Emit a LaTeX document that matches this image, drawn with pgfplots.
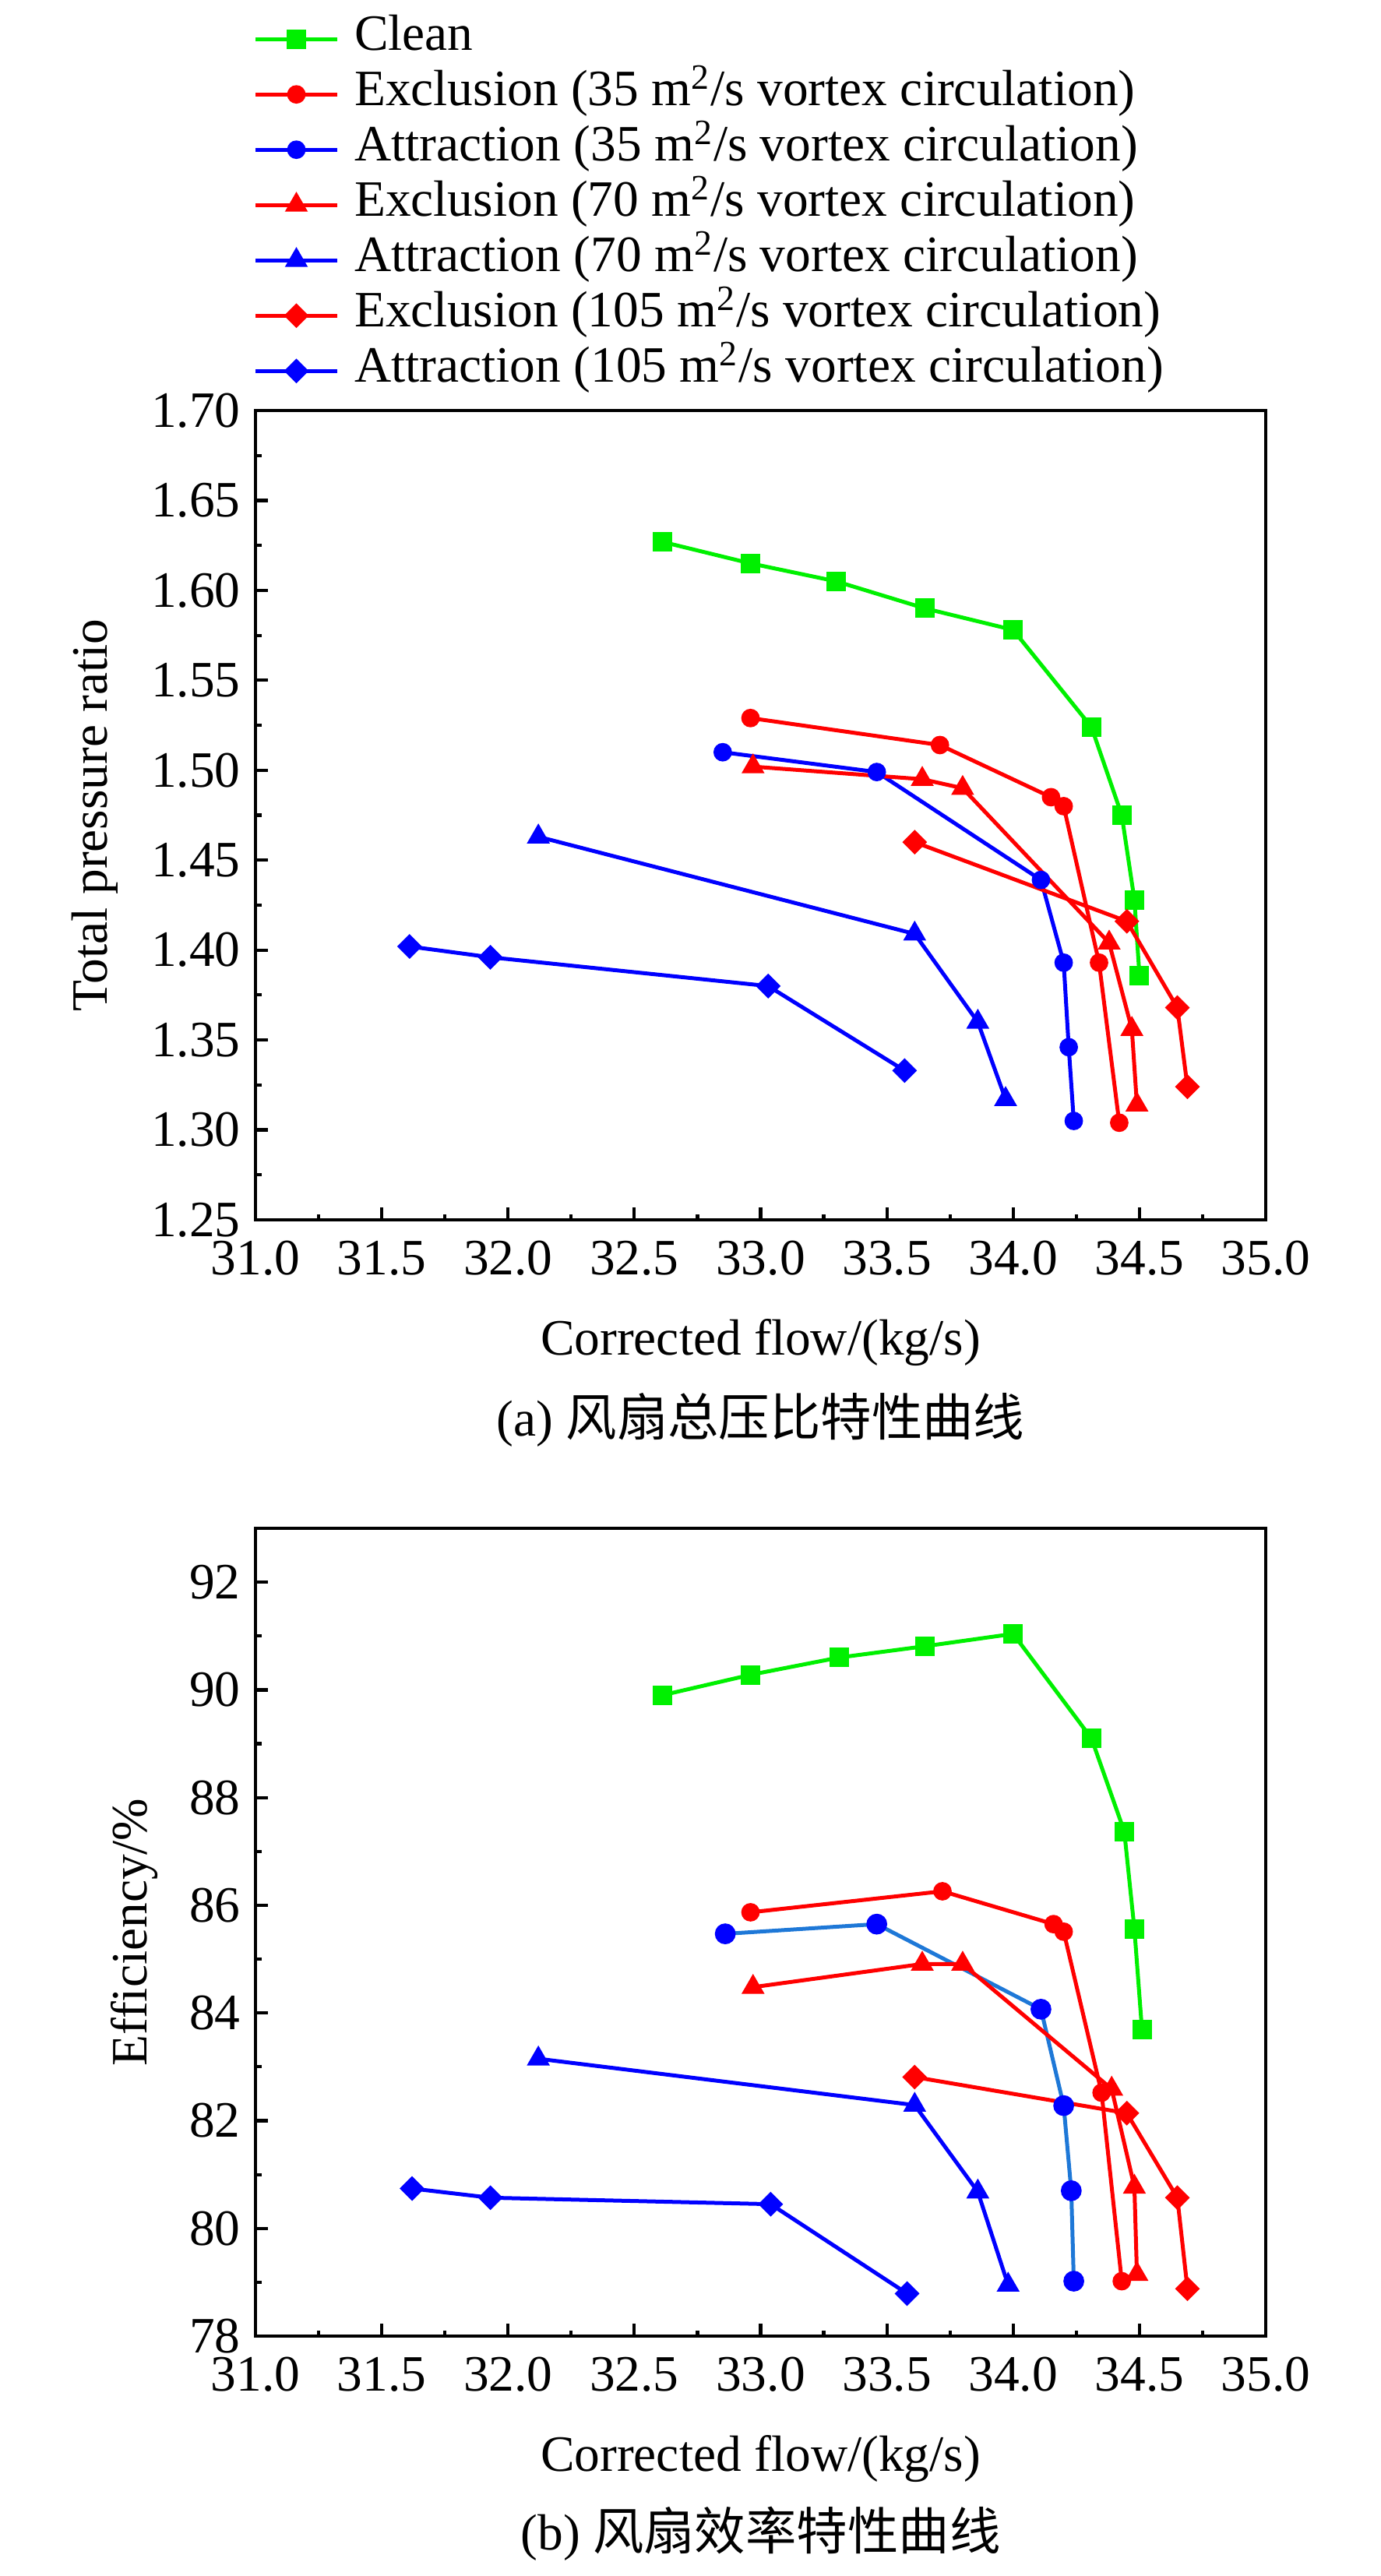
\documentclass[border=0pt]{standalone}
\usepackage{fontspec}
\setmainfont{Liberation Serif}
\newfontfamily\cjk{Noto Sans CJK SC}
\usepackage{pgfplots}
\pgfplotsset{compat=1.18}
\definecolor{cgreen}{RGB}{0,240,0}
\definecolor{cred}{RGB}{255,0,0}
\definecolor{cblue}{RGB}{0,0,255}
\definecolor{lblue}{RGB}{30,120,215}
\pgfplotsset{
 myaxis/.style={
  width=311.28pt, height=249.36pt, scale only axis,
  xmin=31, xmax=35, xtick={31,31.5,32,32.5,33,33.5,34,34.5,35},
  minor x tick num=1, minor y tick num=1,
  tick pos=left, tick align=inside,
  major tick length=3.84pt, minor tick length=1.8pt,
  axis line style={line width=1pt},
  every tick/.append style={black, line width=1pt},
  /pgf/number format/assume math mode=true,
  xticklabel style={/pgf/number format/.cd, fixed, fixed zerofill, precision=1, /tikz/.cd, yshift=-3pt},
  yticklabel style={xshift=-1.1pt},
  xlabel={Corrected flow/(kg/s)},
  xlabel style={at={(axis description cs:0.5,-0.152)}, anchor=center},
  every axis plot/.append style={line width=1.2pt},
  legend image code/.code={\draw[mark repeat=2,mark phase=2,##1] plot coordinates {(0pt,0pt) (12.5pt,0pt) (25pt,0pt)};},
 },
 sq/.style={mark=square*, mark size=2.75pt, mark options={solid, line width=0.5pt}},
 ci/.style={mark=*, mark size=2.6pt, mark options={solid, line width=0.5pt}},
 tr/.style={mark=triangle*, mark size=3.6pt, mark options={solid, line width=0.5pt}},
 di/.style={mark=square*, mark size=2.45pt, mark options={solid, line width=0.5pt, rotate=45}},
}
\begin{document}
\begin{tikzpicture}[font=\fontsize{15.7pt}{18.5pt}\selectfont]
\useasboundingbox (0,0) rectangle (425.28pt,-793.68pt);
% ---------------- (a) ----------------
\begin{axis}[myaxis, at={(78.72pt,-375.84pt)}, anchor=south west,
  ymin=1.25, ymax=1.70, ytick={1.25,1.30,1.35,1.40,1.45,1.50,1.55,1.60,1.65,1.70},
  yticklabel style={/pgf/number format/.cd, fixed, fixed zerofill, precision=2},
  ylabel={Total pressure ratio},
  ylabel style={at={(axis description cs:-0.1588,0.5)}, anchor=center},
  legend cell align=left,
  legend style={at={(axis description cs:-0.0016,1.489)}, anchor=north west, draw=none, fill=none,
    inner sep=0pt, outer sep=0pt, row sep=2.04pt, column sep=4.8pt,
    nodes={inner sep=0pt, text height=11pt, text depth=4pt}},
]
\addplot[cgreen, sq] coordinates {(32.61,1.627) (32.96,1.615) (33.30,1.605) (33.65,1.590) (34.00,1.578) (34.31,1.524) (34.43,1.475) (34.48,1.428) (34.50,1.386)};
\addlegendentry{Clean}
\addplot[cred, ci] coordinates {(32.96,1.529) (33.71,1.514) (34.15,1.485) (34.20,1.480) (34.34,1.393) (34.42,1.304)};
\addlegendentry{Exclusion (35 m\textsuperscript{2}/s vortex circulation)}
\addplot[cblue, ci] coordinates {(32.85,1.510) (33.46,1.499) (34.11,1.439) (34.20,1.393) (34.22,1.346) (34.24,1.305)};
\addlegendentry{Attraction (35 m\textsuperscript{2}/s vortex circulation)}
\addplot[cred, tr] coordinates {(32.97,1.502) (33.64,1.495) (33.80,1.490) (34.38,1.404) (34.47,1.356) (34.49,1.314)};
\addlegendentry{Exclusion (70 m\textsuperscript{2}/s vortex circulation)}
\addplot[cblue, tr] coordinates {(32.12,1.463) (33.61,1.409) (33.86,1.360) (33.97,1.317)};
\addlegendentry{Attraction (70 m\textsuperscript{2}/s vortex circulation)}
\addplot[cred, di] coordinates {(33.61,1.460) (34.45,1.416) (34.65,1.368) (34.69,1.324)};
\addlegendentry{Exclusion (105 m\textsuperscript{2}/s vortex circulation)}
\addplot[cblue, di] coordinates {(31.61,1.402) (31.93,1.396) (33.03,1.380) (33.57,1.333)};
\addlegendentry{Attraction (105 m\textsuperscript{2}/s vortex circulation)}
\end{axis}
% ---------------- (b) ----------------
\begin{axis}[myaxis, at={(78.72pt,-719.76pt)}, anchor=south west,
  height=248.88pt,
  ymin=78, ymax=93, ytick={78,80,82,84,86,88,90,92},
  ylabel={Efficiency/\%},
  ylabel style={at={(axis description cs:-0.120,0.5)}, anchor=center},
]
\addplot[cgreen, sq] coordinates {(32.61,89.90) (32.96,90.28) (33.31,90.60) (33.65,90.81) (34.00,91.04) (34.31,89.10) (34.44,87.37) (34.48,85.56) (34.51,83.69)};
\addplot[cred, ci] coordinates {(32.96,85.87) (33.72,86.26) (34.16,85.65) (34.20,85.51) (34.35,82.52) (34.43,79.02)};
\addplot[lblue, ci, mark options={fill=cblue, draw=cblue}] coordinates {(32.86,85.47) (33.46,85.65) (34.11,84.07) (34.20,82.28) (34.23,80.70) (34.24,79.02)};
\addplot[cred, tr] coordinates {(32.97,84.48) (33.64,84.91) (33.80,84.91) (34.39,82.59) (34.48,80.77) (34.49,79.15)};
\addplot[cblue, tr] coordinates {(32.12,83.15) (33.61,82.29) (33.86,80.68) (33.98,78.95)};
\addplot[cred, di] coordinates {(33.61,82.81) (34.45,82.14) (34.65,80.57) (34.69,78.88)};
\addplot[cblue, di] coordinates {(31.62,80.74) (31.93,80.57) (33.04,80.45) (33.58,78.79)};
\end{axis}
\node[anchor=center] at (234.36pt,-437.52pt) {(a) {\cjk 风扇总压比特性曲线}};
\node[anchor=center] at (234.36pt,-780.72pt) {(b) {\cjk 风扇效率特性曲线}};
\end{tikzpicture}
\end{document}
